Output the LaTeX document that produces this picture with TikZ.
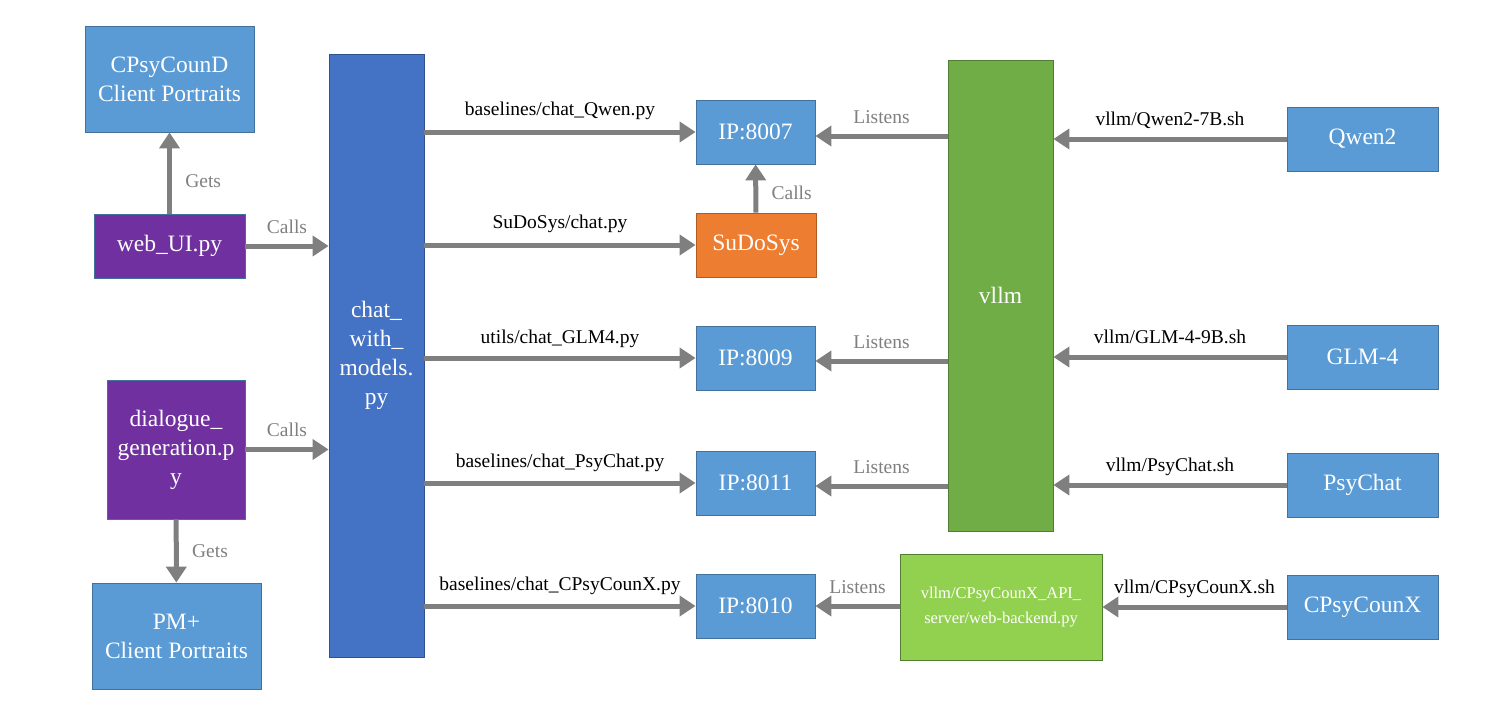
\documentclass[tikz,border=0pt]{standalone}
\usepackage{fontspec}
\setmainfont{Liberation Serif}
\usetikzlibrary{arrows.meta}
\usepackage{xcolor}
\definecolor{boxblue}{RGB}{91,155,213}
\definecolor{boxblueedge}{RGB}{65,113,156}
\definecolor{chatblue}{RGB}{68,114,196}
\definecolor{chatedge}{RGB}{47,82,143}
\definecolor{scriptpurple}{RGB}{112,48,160}
\definecolor{sudoorange}{RGB}{237,125,49}
\definecolor{sudoedge}{RGB}{174,90,33}
\definecolor{vllmgreen}{RGB}{112,173,71}
\definecolor{vllmedge}{RGB}{80,126,50}
\definecolor{apigreen}{RGB}{146,208,80}
\definecolor{arrowgray}{RGB}{127,127,127}

\begin{document}
\begin{tikzpicture}[x=1pt,y=-1pt,
  box/.style={draw=boxblueedge,line width=0.8pt,fill=boxblue,text=white,align=center,
    inner sep=0pt,font=\fontsize{23.5}{29}\selectfont},
  ipbox/.style={box,minimum width=119pt,minimum height=64pt},
  modelbox/.style={box,minimum width=151pt,minimum height=64pt},
  flow/.style={draw=arrowgray,line width=5pt,-{Triangle[width=20pt,length=16pt]}},
  pathlbl/.style={font=\fontsize{19.5}{22}\selectfont,text=black,text depth=0pt},
  verblbl/.style={font=\fontsize{19.5}{22}\selectfont,text=arrowgray,text depth=0pt}]
  \path[use as bounding box] (0,0) rectangle (1512,720);

  % left column
  \node[box,minimum width=169pt,minimum height=106pt] (cpsycound) at (169.5,79)
    {CPsyCounD\\Client Portraits};
  \node[box,fill=scriptpurple,minimum width=151pt,minimum height=64pt] (webui) at (169.5,246)
    {web\_UI.py};
  \node[box,fill=scriptpurple,minimum width=138pt,minimum height=139pt] (dialog) at (176,449.5)
    {dialogue\_\\generation.p\\y};
  \node[box,minimum width=169pt,minimum height=106pt] (pmplus) at (176.5,636)
    {PM+\\Client Portraits};

  \node[box,draw=chatedge,fill=chatblue,minimum width=95pt,minimum height=603pt] (chat) at (376.5,355.5)
    {chat\_\\with\_\\models.\\py};

  % ports
  \node[ipbox] (ip8007) at (755.5,132) {IP:8007};
  \node[box,draw=sudoedge,fill=sudoorange,minimum width=120pt,minimum height=64pt] (sudosys) at (756,245)
    {SuDoSys};
  \node[ipbox] (ip8009) at (755.5,358) {IP:8009};
  \node[ipbox] (ip8011) at (755.5,483) {IP:8011};
  \node[ipbox] (ip8010) at (755.5,606) {IP:8010};

  \node[box,draw=vllmedge,fill=vllmgreen,minimum width=105pt,minimum height=471pt] (vllm) at (1000.5,295.5)
    {vllm};
  \node[box,draw=vllmedge,fill=apigreen,minimum width=202pt,minimum height=106pt,
    font=\fontsize{16.5}{25}\selectfont] (apisrv) at (1001,607)
    {vllm/CPsyCounX\_API\_\\server/web-backend.py};

  % models
  \node[modelbox] (qwen) at (1362.5,139) {Qwen2};
  \node[modelbox] (glm) at (1362.5,357) {GLM-4};
  \node[modelbox] (psychat) at (1362.5,485) {PsyChat};
  \node[modelbox] (cpsycounx) at (1362.5,607) {CPsyCounX};

  \draw[flow] (webui) -- node[verblbl,right=10pt,yshift=-8pt] {Gets} (cpsycound);
  \draw[flow] (dialog) -- node[verblbl,right=10pt] {Gets} (pmplus);
  \draw[flow] (webui.east) -- node[verblbl,above=7pt] {Calls} (chat.west |- webui.east);
  \draw[flow] (dialog.east) -- node[verblbl,above=7pt] {Calls} (chat.west |- dialog.east);

  \draw[flow] (chat.east |- ip8007.west) -- node[pathlbl,above=11pt] {baselines/chat\_Qwen.py} (ip8007.west);
  \draw[flow] (chat.east |- sudosys.west) -- node[pathlbl,above=11pt] {SuDoSys/chat.py} (sudosys.west);
  \draw[flow] (chat.east |- ip8009.west) -- node[pathlbl,above=9pt] {utils/chat\_GLM4.py} (ip8009.west);
  \draw[flow] (chat.east |- ip8011.west) -- node[pathlbl,above=10pt] {baselines/chat\_PsyChat.py} (ip8011.west);
  \draw[flow] (chat.east |- ip8010.west) -- node[pathlbl,above=10pt] {baselines/chat\_CPsyCounX.py} (ip8010.west);

  \draw[flow] (sudosys) -- node[verblbl,right=10pt,yshift=-4pt] {Calls} (ip8007);

  \draw[flow] ([yshift=-4pt]vllm.west |- ip8007.east) -- node[verblbl,above=7pt] {Listens} ([yshift=-4pt]ip8007.east);
  \draw[flow] ([yshift=-3pt]vllm.west |- ip8009.east) -- node[verblbl,above=7pt] {Listens} ([yshift=-3pt]ip8009.east);
  \draw[flow] ([yshift=-3pt]vllm.west |- ip8011.east) -- node[verblbl,above=7pt] {Listens} ([yshift=-3pt]ip8011.east);
  \draw[flow] (apisrv.west |- ip8010.east) -- node[verblbl,above=7pt] {Listens} (ip8010.east);

  \draw[flow] (qwen.west) -- node[pathlbl,above=8pt] {vllm/Qwen2-7B.sh} (vllm.east |- qwen.west);
  \draw[flow] (glm.west) -- node[pathlbl,above=8pt] {vllm/GLM-4-9B.sh} (vllm.east |- glm.west);
  \draw[flow] (psychat.west) -- node[pathlbl,above=8pt] {vllm/PsyChat.sh} (vllm.east |- psychat.west);
  \draw[flow] (cpsycounx.west) -- node[pathlbl,above=8pt] {vllm/CPsyCounX.sh} (apisrv.east |- cpsycounx.west);
\end{tikzpicture}
\end{document}
